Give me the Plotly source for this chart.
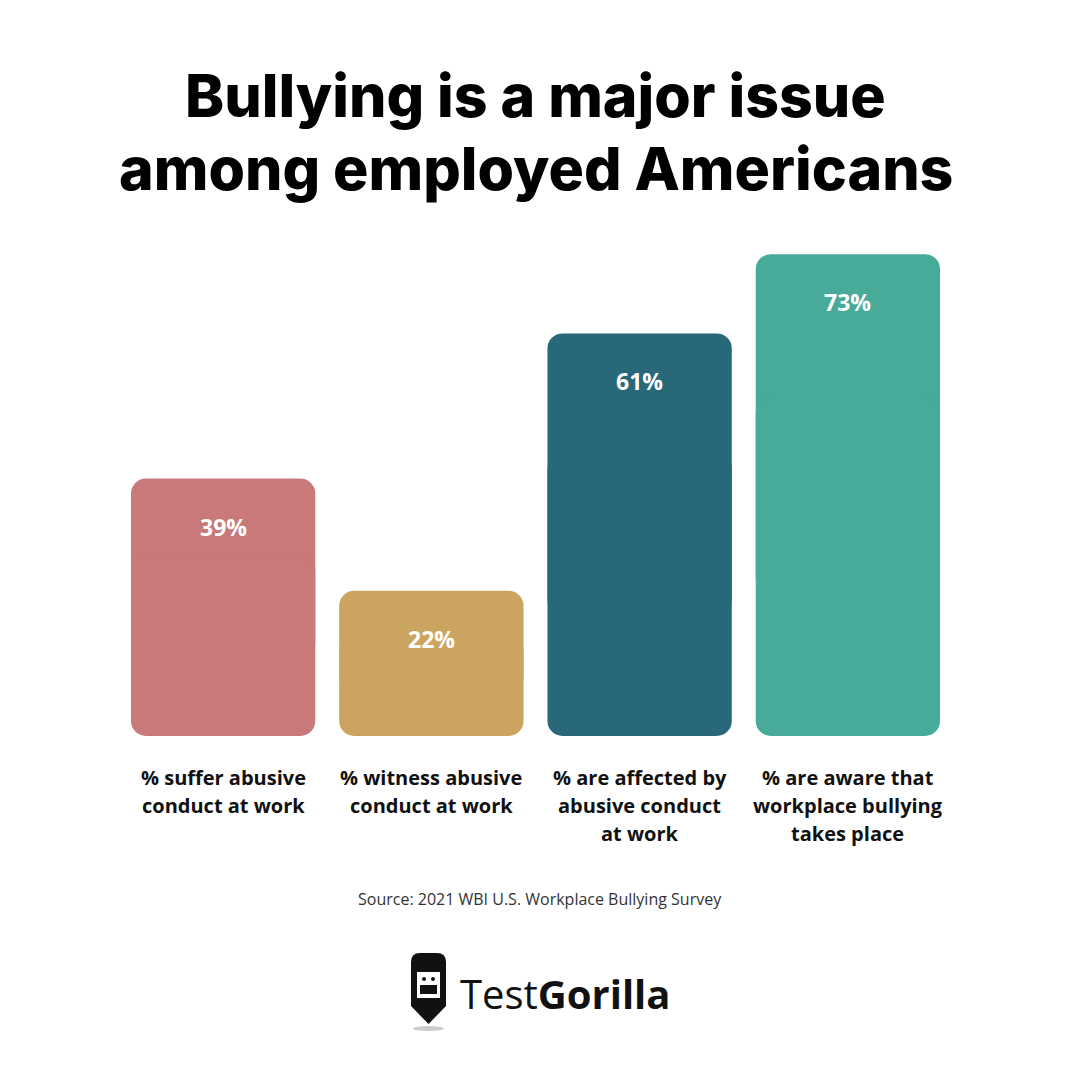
import plotly.graph_objects as go

categories = ["suffer", "witness", "affected", "aware"]
values = [39, 22, 61, 73]
value_labels = ["39%", "22%", "61%", "73%"]
category_labels = [
    ["% suffer abusive", "conduct at work"],
    ["% witness abusive", "conduct at work"],
    ["% are affected by", "abusive conduct", "at work"],
    ["% are aware that", "workplace bullying", "takes place"],
]
colors = ["#C97979", "#CBA460", "#296878", "#48AA98"]

title_lines = ["Bullying is a major issue", "among employed Americans"]
source_text = "Source: 2021 WBI U.S. Workplace Bullying Survey"

OFF = 8  # page body margin offset
L, R, T, B = 119 - OFF, 128 + OFF, 208 - OFF, 344 + OFF
plot_w = 1080 - L - R
plot_h = 1080 - T - B

def px(pix):
    return (pix - OFF - L) / plot_w

def py(pix):
    return (1080 - B - (pix - OFF)) / plot_h

# two overlapping pieces per bar so both ends get rounded corners
upper_base = [v * 0.3 for v in values]
upper_len = [v * 0.7 for v in values]
lower_base = [v * 0.7 for v in values]
lower_len = [-v * 0.7 for v in values]

fig = go.Figure()
fig.add_trace(go.Bar(x=categories, y=upper_len, base=upper_base,
                     marker=dict(color=colors, line=dict(width=0)),
                     hoverinfo="skip", showlegend=False))
fig.add_trace(go.Bar(x=categories, y=lower_len, base=lower_base,
                     marker=dict(color=colors, line=dict(width=0)),
                     hoverinfo="skip", showlegend=False))

annotations = []
for c, v, t in zip(categories, values, value_labels):
    annotations.append(dict(x=c, y=v, xref="x", yref="y", text=t, showarrow=False,
                            yshift=-48, yanchor="middle",
                            font=dict(family="Open Sans", size=23, color="white", weight=700)))
for c, lines in zip(categories, category_labels):
    for i, line in enumerate(lines):
        annotations.append(dict(x=c, y=0, xref="x", yref="y", text=line, showarrow=False,
                                yshift=-(41 + 28 * i), yanchor="middle", align="center",
                                font=dict(family="Open Sans", size=20, color="#111111", weight=700)))
for i, line in enumerate(title_lines):
    annotations.append(dict(x=0.5, y=py(96 + 72 * i), xref="paper", yref="paper", text=line,
                            showarrow=False, xanchor="center", yanchor="middle",
                            font=dict(family="Inter", size=59, color="black", weight=800)))
annotations.append(dict(x=px(540), y=py(899), xref="paper", yref="paper", text=source_text,
                        showarrow=False, xanchor="center", yanchor="middle",
                        font=dict(family="Open Sans", size=16, color="#333333")))
annotations.append(dict(x=px(458), y=py(993), xref="paper", yref="paper",
                        text="Test<b>Gorilla</b>", showarrow=False, xanchor="left", yanchor="middle",
                        font=dict(family="Open Sans", size=40, color="#111111")))

fig.update_layout(
    width=1080, height=1080,
    margin=dict(l=L, r=R, t=T, b=B),
    paper_bgcolor="white", plot_bgcolor="white",
    barmode="overlay", bargap=0.115, barcornerradius=15,
    xaxis=dict(visible=False, range=[-0.5, 3.5]),
    yaxis=dict(visible=False, range=[0, 80]),
    showlegend=False,
    annotations=annotations,
)

# logo icon (decorative pencil-shaped badge)
fig.add_shape(type="path", xref="paper", yref="paper",
              path=(f"M {px(411)} {py(962)} Q {px(411)} {py(953)} {px(420)} {py(953)} "
                    f"L {px(437)} {py(953)} Q {px(446)} {py(953)} {px(446)} {py(962)} "
                    f"L {px(446)} {py(1006)} L {px(428.5)} {py(1024)} L {px(411)} {py(1006)} Z"),
              fillcolor="#111111", line=dict(width=0))
fig.add_shape(type="path", xref="paper", yref="paper",
              path=(f"M {px(417)} {py(972)} L {px(440)} {py(972)} L {px(440)} {py(998)} "
                    f"L {px(417)} {py(998)} Z"),
              fillcolor="white", line=dict(width=0))
fig.add_shape(type="rect", xref="paper", yref="paper", x0=px(420), x1=px(437), y0=py(994), y1=py(985),
              fillcolor="#111111", line=dict(width=0))
fig.add_shape(type="circle", xref="paper", yref="paper", x0=px(422), x1=px(426), y0=py(981), y1=py(977),
              fillcolor="#111111", line=dict(width=0))
fig.add_shape(type="circle", xref="paper", yref="paper", x0=px(431), x1=px(435), y0=py(981), y1=py(977),
              fillcolor="#111111", line=dict(width=0))
fig.add_shape(type="circle", xref="paper", yref="paper", x0=px(413), x1=px(444), y0=py(1031), y1=py(1026),
              fillcolor="#cccccc", line=dict(width=0))

fig.write_html("out.html")
